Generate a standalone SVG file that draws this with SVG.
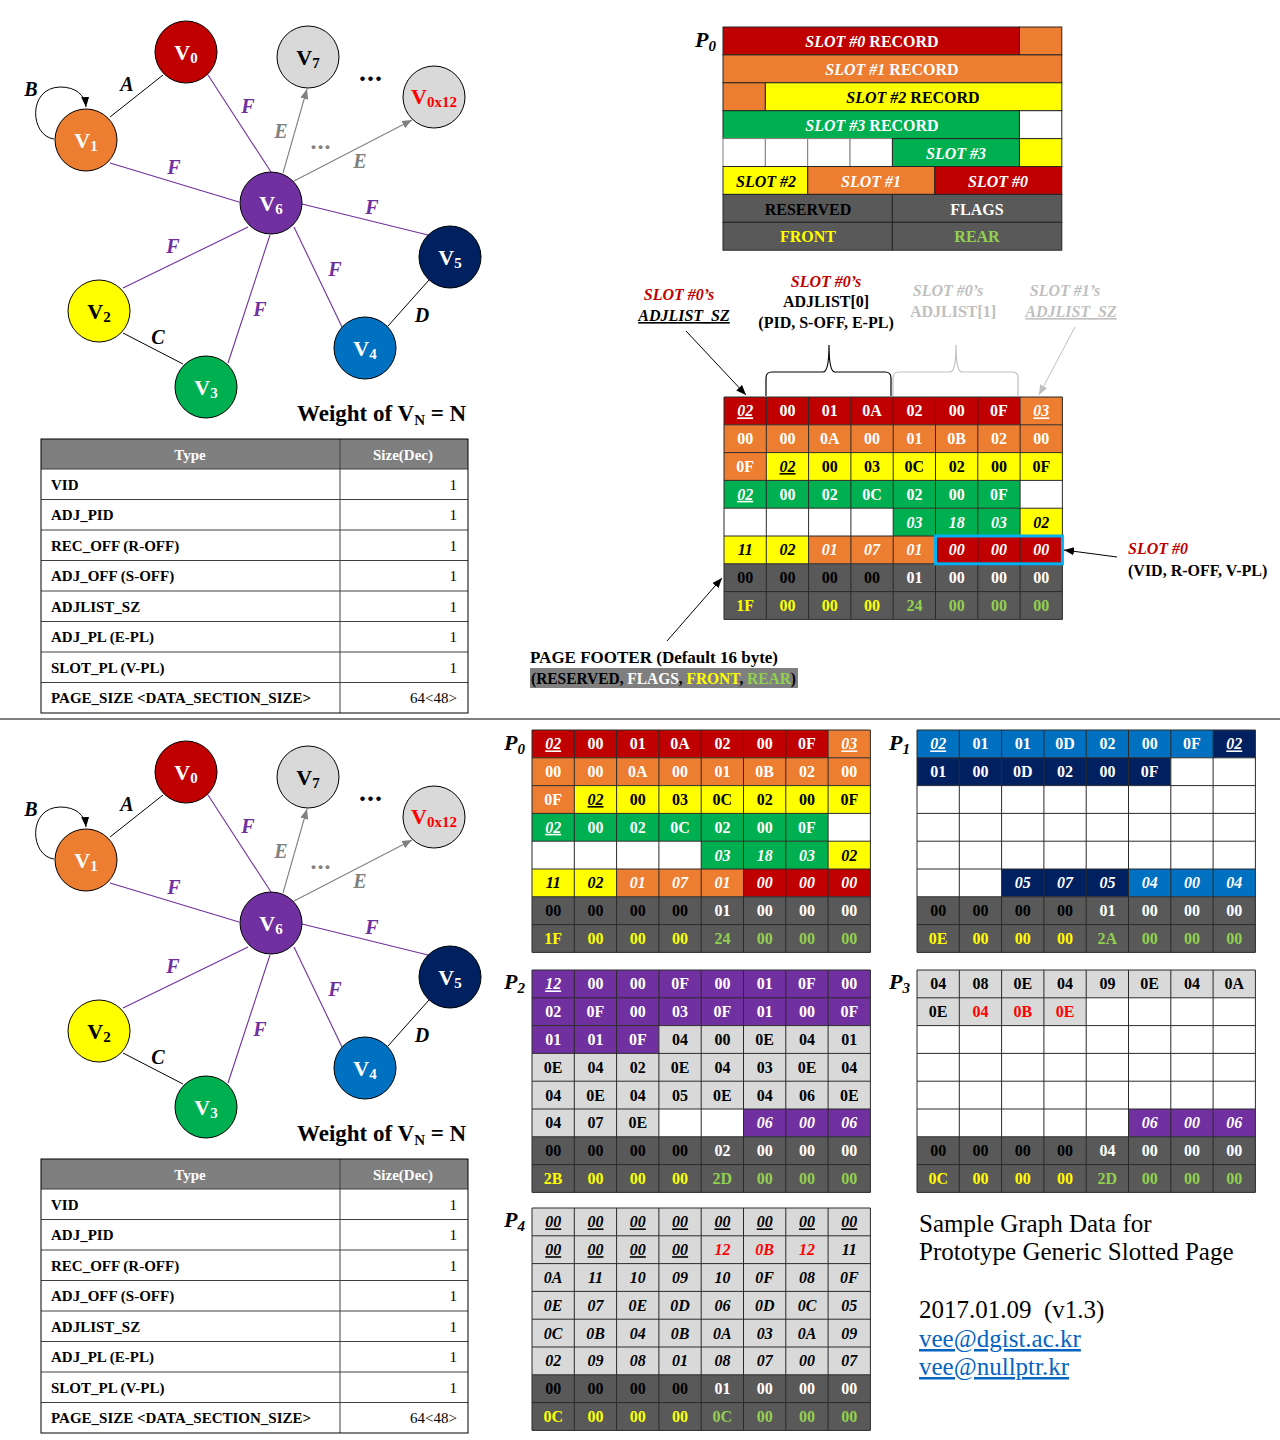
<svg xmlns="http://www.w3.org/2000/svg" width="1280" height="1440" viewBox="0 0 1280 1440">
<style>
text{font-family:"Liberation Serif","DejaVu Serif",serif}
.c{font-weight:bold;font-size:16px;text-anchor:middle}
.w{fill:#fff}.k{fill:#000}.y{fill:#ff0}.l{fill:#92d050}.r{fill:#f00}.gy{fill:#bfbfbf}
.i{font-style:italic}.u{text-decoration:underline}
.nl{font-weight:bold;font-size:22px;text-anchor:middle}
.el{font-weight:bold;font-style:italic;font-size:20px;text-anchor:middle}
.pl{font-weight:bold;font-style:italic;font-size:22px}
.tb{font-weight:bold;font-size:15px}
.tv{font-size:15px;text-anchor:end}
.lt{font-weight:bold;font-size:16px;text-anchor:middle}
.fr{fill:#c00000}.fo{fill:#ed7d31}.fy{fill:#ff0}.fg{fill:#00b050}.fd{fill:#595959}.fl{fill:#d9d9d9}.fb{fill:#0070c0}.fn{fill:#002060}.fp{fill:#7030a0}.fw{fill:#fff}
.lay rect{stroke:#262626;stroke-width:1}
.pe{stroke:#7030a0;stroke-width:1.1;fill:none}
.be{stroke:#000;stroke-width:1;fill:none}
.ge{stroke:#808080;stroke-width:1.1;fill:none}
.nd{stroke:#000;stroke-width:1}
</style>
<defs>
<marker id="ahK" viewBox="0 0 10 10" refX="10" refY="5" markerWidth="10" markerHeight="10" orient="auto" markerUnits="userSpaceOnUse"><path d="M0,1 L10,5 L0,9 z" fill="#000"/></marker>
<marker id="ahG" viewBox="0 0 10 10" refX="10" refY="5" markerWidth="10" markerHeight="10" orient="auto" markerUnits="userSpaceOnUse"><path d="M0,1 L10,5 L0,9 z" fill="#808080"/></marker>
<marker id="ahL" viewBox="0 0 10 10" refX="10" refY="5" markerWidth="10" markerHeight="10" orient="auto" markerUnits="userSpaceOnUse"><path d="M0,1 L10,5 L0,9 z" fill="#bfbfbf"/></marker>
<path id="gl" d="M0 0H338.4M0 27.8H338.4M0 55.6H338.4M0 83.4H338.4M0 111.2H338.4M0 139H338.4M0 166.8H338.4M0 194.6H338.4M0 222.4H338.4M0 0V222.4M42.3 0V222.4M84.6 0V222.4M126.9 0V222.4M169.2 0V222.4M211.5 0V222.4M253.8 0V222.4M296.1 0V222.4M338.4 0V222.4" stroke="#2a2a2a" stroke-width="1" fill="none"/>

<g id="gP0">
<rect class="fr" x="0" y="0" width="296.1" height="27.8"/>
<rect class="fo" x="296.1" y="0" width="42.3" height="27.8"/>
<rect class="fo" x="0" y="27.8" width="338.4" height="27.8"/>
<rect class="fo" x="0" y="55.6" width="42.3" height="27.8"/>
<rect class="fy" x="42.3" y="55.6" width="296.1" height="27.8"/>
<rect class="fg" x="0" y="83.4" width="296.1" height="27.8"/>
<rect class="fw" x="296.1" y="83.4" width="42.3" height="27.8"/>
<rect class="fw" x="0" y="111.2" width="169.2" height="27.8"/>
<rect class="fg" x="169.2" y="111.2" width="126.9" height="27.8"/>
<rect class="fy" x="296.1" y="111.2" width="42.3" height="27.8"/>
<rect class="fy" x="0" y="139" width="84.6" height="27.8"/>
<rect class="fo" x="84.6" y="139" width="126.9" height="27.8"/>
<rect class="fr" x="211.5" y="139" width="126.9" height="27.8"/>
<rect class="fd" x="0" y="166.8" width="338.4" height="55.6"/>
<use href="#gl"/>
<g class="c w"><text class="i u" x="21.2" y="19.4">02</text><text x="63.5" y="19.4">00</text><text x="105.8" y="19.4">01</text><text x="148.1" y="19.4">0A</text><text x="190.4" y="19.4">02</text><text x="232.7" y="19.4">00</text><text x="275" y="19.4">0F</text><text class="i u" x="317.3" y="19.4">03</text>
<text x="21.2" y="47.2">00</text><text x="63.5" y="47.2">00</text><text x="105.8" y="47.2">0A</text><text x="148.1" y="47.2">00</text><text x="190.4" y="47.2">01</text><text x="232.7" y="47.2">0B</text><text x="275" y="47.2">02</text><text x="317.3" y="47.2">00</text>
<text x="21.2" y="75">0F</text>
<text class="i u" x="21.2" y="102.8">02</text><text x="63.5" y="102.8">00</text><text x="105.8" y="102.8">02</text><text x="148.1" y="102.8">0C</text><text x="190.4" y="102.8">02</text><text x="232.7" y="102.8">00</text><text x="275" y="102.8">0F</text>
<text class="i" x="190.4" y="130.6">03</text><text class="i" x="232.7" y="130.6">18</text><text class="i" x="275" y="130.6">03</text>
<text class="i" x="105.8" y="158.4">01</text><text class="i" x="148.1" y="158.4">07</text><text class="i" x="190.4" y="158.4">01</text><text class="i" x="232.7" y="158.4">00</text><text class="i" x="275" y="158.4">00</text><text class="i" x="317.3" y="158.4">00</text>
<text x="190.4" y="186.2">01</text><text x="232.7" y="186.2">00</text><text x="275" y="186.2">00</text><text x="317.3" y="186.2">00</text></g>
<g class="c k"><text class="i u" x="63.5" y="75">02</text><text x="105.8" y="75">00</text><text x="148.1" y="75">03</text><text x="190.4" y="75">0C</text><text x="232.7" y="75">02</text><text x="275" y="75">00</text><text x="317.3" y="75">0F</text>
<text class="i" x="317.3" y="130.6">02</text><text class="i" x="21.2" y="158.4">11</text><text class="i" x="63.5" y="158.4">02</text>
<text x="21.2" y="186.2">00</text><text x="63.5" y="186.2">00</text><text x="105.8" y="186.2">00</text><text x="148.1" y="186.2">00</text></g>
<g class="c y"><text x="21.2" y="214">1F</text><text x="63.5" y="214">00</text><text x="105.8" y="214">00</text><text x="148.1" y="214">00</text></g>
<g class="c l"><text x="190.4" y="214">24</text><text x="232.7" y="214">00</text><text x="275" y="214">00</text><text x="317.3" y="214">00</text></g>
</g>

<g id="gP1">
<rect class="fb" x="0" y="0" width="296.1" height="27.8"/>
<rect class="fn" x="296.1" y="0" width="42.3" height="27.8"/>
<rect class="fn" x="0" y="27.8" width="253.8" height="27.8"/>
<rect class="fw" x="253.8" y="27.8" width="84.6" height="27.8"/>
<rect class="fw" x="0" y="55.6" width="338.4" height="83.4"/>
<rect class="fw" x="0" y="139" width="84.6" height="27.8"/>
<rect class="fn" x="84.6" y="139" width="126.9" height="27.8"/>
<rect class="fb" x="211.5" y="139" width="126.9" height="27.8"/>
<rect class="fd" x="0" y="166.8" width="338.4" height="55.6"/>
<use href="#gl"/>
<g class="c w"><text class="i u" x="21.2" y="19.4">02</text><text x="63.5" y="19.4">01</text><text x="105.8" y="19.4">01</text><text x="148.1" y="19.4">0D</text><text x="190.4" y="19.4">02</text><text x="232.7" y="19.4">00</text><text x="275" y="19.4">0F</text><text class="i u" x="317.3" y="19.4">02</text>
<text x="21.2" y="47.2">01</text><text x="63.5" y="47.2">00</text><text x="105.8" y="47.2">0D</text><text x="148.1" y="47.2">02</text><text x="190.4" y="47.2">00</text><text x="232.7" y="47.2">0F</text>
<text class="i" x="105.8" y="158.4">05</text><text class="i" x="148.1" y="158.4">07</text><text class="i" x="190.4" y="158.4">05</text><text class="i" x="232.7" y="158.4">04</text><text class="i" x="275" y="158.4">00</text><text class="i" x="317.3" y="158.4">04</text>
<text x="190.4" y="186.2">01</text><text x="232.7" y="186.2">00</text><text x="275" y="186.2">00</text><text x="317.3" y="186.2">00</text></g>
<g class="c k"><text x="21.2" y="186.2">00</text><text x="63.5" y="186.2">00</text><text x="105.8" y="186.2">00</text><text x="148.1" y="186.2">00</text></g>
<g class="c y"><text x="21.2" y="214">0E</text><text x="63.5" y="214">00</text><text x="105.8" y="214">00</text><text x="148.1" y="214">00</text></g>
<g class="c l"><text x="190.4" y="214">2A</text><text x="232.7" y="214">00</text><text x="275" y="214">00</text><text x="317.3" y="214">00</text></g>
</g>

<g id="gP2">
<rect class="fp" x="0" y="0" width="338.4" height="55.6"/>
<rect class="fp" x="0" y="55.6" width="126.9" height="27.8"/>
<rect class="fl" x="126.9" y="55.6" width="211.5" height="27.8"/>
<rect class="fl" x="0" y="83.4" width="338.4" height="55.6"/>
<rect class="fl" x="0" y="139" width="126.9" height="27.8"/>
<rect class="fw" x="126.9" y="139" width="84.6" height="27.8"/>
<rect class="fp" x="211.5" y="139" width="126.9" height="27.8"/>
<rect class="fd" x="0" y="166.8" width="338.4" height="55.6"/>
<use href="#gl"/>
<g class="c w"><text class="i u" x="21.2" y="19.4">12</text><text x="63.5" y="19.4">00</text><text x="105.8" y="19.4">00</text><text x="148.1" y="19.4">0F</text><text x="190.4" y="19.4">00</text><text x="232.7" y="19.4">01</text><text x="275" y="19.4">0F</text><text x="317.3" y="19.4">00</text>
<text x="21.2" y="47.2">02</text><text x="63.5" y="47.2">0F</text><text x="105.8" y="47.2">00</text><text x="148.1" y="47.2">03</text><text x="190.4" y="47.2">0F</text><text x="232.7" y="47.2">01</text><text x="275" y="47.2">00</text><text x="317.3" y="47.2">0F</text>
<text x="21.2" y="75">01</text><text x="63.5" y="75">01</text><text x="105.8" y="75">0F</text>
<text class="i" x="232.7" y="158.4">06</text><text class="i" x="275" y="158.4">00</text><text class="i" x="317.3" y="158.4">06</text>
<text x="190.4" y="186.2">02</text><text x="232.7" y="186.2">00</text><text x="275" y="186.2">00</text><text x="317.3" y="186.2">00</text></g>
<g class="c k"><text x="148.1" y="75">04</text><text x="190.4" y="75">00</text><text x="232.7" y="75">0E</text><text x="275" y="75">04</text><text x="317.3" y="75">01</text>
<text x="21.2" y="102.8">0E</text><text x="63.5" y="102.8">04</text><text x="105.8" y="102.8">02</text><text x="148.1" y="102.8">0E</text><text x="190.4" y="102.8">04</text><text x="232.7" y="102.8">03</text><text x="275" y="102.8">0E</text><text x="317.3" y="102.8">04</text>
<text x="21.2" y="130.6">04</text><text x="63.5" y="130.6">0E</text><text x="105.8" y="130.6">04</text><text x="148.1" y="130.6">05</text><text x="190.4" y="130.6">0E</text><text x="232.7" y="130.6">04</text><text x="275" y="130.6">06</text><text x="317.3" y="130.6">0E</text>
<text x="21.2" y="158.4">04</text><text x="63.5" y="158.4">07</text><text x="105.8" y="158.4">0E</text>
<text x="21.2" y="186.2">00</text><text x="63.5" y="186.2">00</text><text x="105.8" y="186.2">00</text><text x="148.1" y="186.2">00</text></g>
<g class="c y"><text x="21.2" y="214">2B</text><text x="63.5" y="214">00</text><text x="105.8" y="214">00</text><text x="148.1" y="214">00</text></g>
<g class="c l"><text x="190.4" y="214">2D</text><text x="232.7" y="214">00</text><text x="275" y="214">00</text><text x="317.3" y="214">00</text></g>
</g>

<g id="gP3">
<rect class="fl" x="0" y="0" width="338.4" height="27.8"/>
<rect class="fl" x="0" y="27.8" width="169.2" height="27.8"/>
<rect class="fw" x="169.2" y="27.8" width="169.2" height="27.8"/>
<rect class="fw" x="0" y="55.6" width="338.4" height="83.4"/>
<rect class="fw" x="0" y="139" width="211.5" height="27.8"/>
<rect class="fp" x="211.5" y="139" width="126.9" height="27.8"/>
<rect class="fd" x="0" y="166.8" width="338.4" height="55.6"/>
<use href="#gl"/>
<g class="c k"><text x="21.2" y="19.4">04</text><text x="63.5" y="19.4">08</text><text x="105.8" y="19.4">0E</text><text x="148.1" y="19.4">04</text><text x="190.4" y="19.4">09</text><text x="232.7" y="19.4">0E</text><text x="275" y="19.4">04</text><text x="317.3" y="19.4">0A</text>
<text x="21.2" y="47.2">0E</text>
<text x="21.2" y="186.2">00</text><text x="63.5" y="186.2">00</text><text x="105.8" y="186.2">00</text><text x="148.1" y="186.2">00</text></g>
<g class="c r"><text x="63.5" y="47.2">04</text><text x="105.8" y="47.2">0B</text><text x="148.1" y="47.2">0E</text></g>
<g class="c w"><text class="i" x="232.7" y="158.4">06</text><text class="i" x="275" y="158.4">00</text><text class="i" x="317.3" y="158.4">06</text>
<text x="190.4" y="186.2">04</text><text x="232.7" y="186.2">00</text><text x="275" y="186.2">00</text><text x="317.3" y="186.2">00</text></g>
<g class="c y"><text x="21.2" y="214">0C</text><text x="63.5" y="214">00</text><text x="105.8" y="214">00</text><text x="148.1" y="214">00</text></g>
<g class="c l"><text x="190.4" y="214">2D</text><text x="232.7" y="214">00</text><text x="275" y="214">00</text><text x="317.3" y="214">00</text></g>
</g>

<g id="gP4">
<rect class="fl" x="0" y="0" width="338.4" height="166.8"/>
<rect class="fd" x="0" y="166.8" width="338.4" height="55.6"/>
<use href="#gl"/>
<g class="c k i"><text class="u" x="21.2" y="19.4">00</text><text class="u" x="63.5" y="19.4">00</text><text class="u" x="105.8" y="19.4">00</text><text class="u" x="148.1" y="19.4">00</text><text class="u" x="190.4" y="19.4">00</text><text class="u" x="232.7" y="19.4">00</text><text class="u" x="275" y="19.4">00</text><text class="u" x="317.3" y="19.4">00</text>
<text class="u" x="21.2" y="47.2">00</text><text class="u" x="63.5" y="47.2">00</text><text class="u" x="105.8" y="47.2">00</text><text class="u" x="148.1" y="47.2">00</text><text class="r" x="190.4" y="47.2">12</text><text class="r" x="232.7" y="47.2">0B</text><text class="r" x="275" y="47.2">12</text><text x="317.3" y="47.2">11</text>
<text x="21.2" y="75">0A</text><text x="63.5" y="75">11</text><text x="105.8" y="75">10</text><text x="148.1" y="75">09</text><text x="190.4" y="75">10</text><text x="232.7" y="75">0F</text><text x="275" y="75">08</text><text x="317.3" y="75">0F</text>
<text x="21.2" y="102.8">0E</text><text x="63.5" y="102.8">07</text><text x="105.8" y="102.8">0E</text><text x="148.1" y="102.8">0D</text><text x="190.4" y="102.8">06</text><text x="232.7" y="102.8">0D</text><text x="275" y="102.8">0C</text><text x="317.3" y="102.8">05</text>
<text x="21.2" y="130.6">0C</text><text x="63.5" y="130.6">0B</text><text x="105.8" y="130.6">04</text><text x="148.1" y="130.6">0B</text><text x="190.4" y="130.6">0A</text><text x="232.7" y="130.6">03</text><text x="275" y="130.6">0A</text><text x="317.3" y="130.6">09</text>
<text x="21.2" y="158.4">02</text><text x="63.5" y="158.4">09</text><text x="105.8" y="158.4">08</text><text x="148.1" y="158.4">01</text><text x="190.4" y="158.4">08</text><text x="232.7" y="158.4">07</text><text x="275" y="158.4">00</text><text x="317.3" y="158.4">07</text></g>
<g class="c k"><text x="21.2" y="186.2">00</text><text x="63.5" y="186.2">00</text><text x="105.8" y="186.2">00</text><text x="148.1" y="186.2">00</text></g>
<g class="c w"><text x="190.4" y="186.2">01</text><text x="232.7" y="186.2">00</text><text x="275" y="186.2">00</text><text x="317.3" y="186.2">00</text></g>
<g class="c y"><text x="21.2" y="214">0C</text><text x="63.5" y="214">00</text><text x="105.8" y="214">00</text><text x="148.1" y="214">00</text></g>
<g class="c l"><text x="190.4" y="214">0C</text><text x="232.7" y="214">00</text><text x="275" y="214">00</text><text x="317.3" y="214">00</text></g>
</g>
</defs>

<rect width="1280" height="1440" fill="#fff"/>

<!-- Top graph -->
<g id="graph">
<g id="connectors">
<path class="be" d="M163,75 L110,117"/>
<path class="be" d="M123,333 L183,364"/>
<path class="be" d="M388,326 L429,280"/>
<path class="be" d="M54,139 C30,136 27,88 60,87 C76,87 85,95 86,107" marker-end="url(#ahK)"/>
<path class="pe" d="M208,75 L271,172"/>
<path class="pe" d="M110,163 L239,202"/>
<path class="pe" d="M302,204 L428,235"/>
<path class="pe" d="M248,227 L123,288"/>
<path class="pe" d="M270,235 L228,363"/>
<path class="pe" d="M294,227 L342,327"/>
<path class="ge" d="M283,173 L307,89" marker-end="url(#ahG)"/>
<path class="ge" d="M294,181 L412,120" marker-end="url(#ahG)"/>
<g class="el">
<text x="127" y="91">A</text><text x="31" y="96">B</text><text x="158" y="344">C</text><text x="422" y="322">D</text>
<text x="248" y="113" fill="#7030a0">F</text><text x="174" y="174" fill="#7030a0">F</text><text x="372" y="214" fill="#7030a0">F</text><text x="173" y="253" fill="#7030a0">F</text><text x="260" y="316" fill="#7030a0">F</text><text x="335" y="276" fill="#7030a0">F</text>
<text x="281" y="138" fill="#808080">E</text><text x="360" y="168" fill="#808080">E</text>
</g>
</g>
<text x="371" y="81" font-size="28" font-weight="bold" text-anchor="middle" letter-spacing="1">...</text>
<text x="321" y="149" font-size="24" font-weight="bold" text-anchor="middle" fill="#808080" letter-spacing="1">...</text>
<g id="nV0"><circle class="nd" cx="186" cy="52" r="31" fill="#c00000"/><text class="nl w" x="186" y="60">V<tspan font-size="15" dy="3">0</tspan></text></g>
<g id="nV7"><circle class="nd" cx="308" cy="57" r="31" fill="#d9d9d9"/><text class="nl k" x="308" y="65">V<tspan font-size="15" dy="3">7</tspan></text></g>
<g id="nV0x12"><circle class="nd" cx="434" cy="97" r="31" fill="#d9d9d9"/><text class="nl r" x="434" y="104">V<tspan font-size="15" dy="3">0x12</tspan></text></g>
<g id="nV1"><circle class="nd" cx="86" cy="140" r="31" fill="#ed7d31"/><text class="nl w" x="86" y="148">V<tspan font-size="15" dy="3">1</tspan></text></g>
<g id="nV6"><circle class="nd" cx="271" cy="203" r="31" fill="#7030a0"/><text class="nl w" x="271" y="211">V<tspan font-size="15" dy="3">6</tspan></text></g>
<g id="nV5"><circle class="nd" cx="450" cy="257" r="31" fill="#002060"/><text class="nl w" x="450" y="265">V<tspan font-size="15" dy="3">5</tspan></text></g>
<g id="nV2"><circle class="nd" cx="99" cy="311" r="31" fill="#ffff00"/><text class="nl k" x="99" y="319">V<tspan font-size="15" dy="3">2</tspan></text></g>
<g id="nV3"><circle class="nd" cx="206" cy="387" r="31" fill="#00b050"/><text class="nl w" x="206" y="395">V<tspan font-size="15" dy="3">3</tspan></text></g>
<g id="nV4"><circle class="nd" cx="365" cy="348" r="31" fill="#0070c0"/><text class="nl w" x="365" y="356">V<tspan font-size="15" dy="3">4</tspan></text></g>
<text x="297" y="421" font-size="23" font-weight="bold">Weight of V<tspan font-size="15" dy="4">N</tspan><tspan dy="-4"> = N</tspan></text>
</g>

<!-- Top table -->
<g id="table">
<rect x="41" y="439" width="427" height="30" fill="#7f7f7f"/>
<path d="M41 469H468M41 499.5H468M41 530H468M41 560.5H468M41 591H468M41 621.5H468M41 652H468M41 682.5H468M340 439V713" stroke="#404040" fill="none"/>
<rect x="41" y="439" width="427" height="274" fill="none" stroke="#000"/>
<text class="tb w" x="190" y="460" text-anchor="middle">Type</text>
<text class="tb w" x="403" y="460" text-anchor="middle">Size(Dec)</text>
<g class="tb k">
<text x="51" y="489.5">VID</text><text x="51" y="520">ADJ_PID</text><text x="51" y="550.5">REC_OFF (R-OFF)</text><text x="51" y="581">ADJ_OFF (S-OFF)</text><text x="51" y="611.5">ADJLIST_SZ</text><text x="51" y="642">ADJ_PL (E-PL)</text><text x="51" y="672.5">SLOT_PL (V-PL)</text><text x="51" y="703">PAGE_SIZE &lt;DATA_SECTION_SIZE&gt;</text>
</g>
<g class="tv k">
<text x="457" y="489.5">1</text><text x="457" y="520">1</text><text x="457" y="550.5">1</text><text x="457" y="581">1</text><text x="457" y="611.5">1</text><text x="457" y="642">1</text><text x="457" y="672.5">1</text><text x="457" y="703">64&lt;48&gt;</text>
</g>
</g>

<!-- Top-right page layout -->
<g id="layout" class="lay">
<text class="pl" x="695" y="47" stroke="none">P<tspan font-size="15" dy="4">0</tspan></text>
<rect class="fr" x="723" y="27" width="296.45" height="27.9"/>
<rect class="fo" x="1019.45" y="27" width="42.35" height="27.9"/>
<rect class="fo" x="723" y="54.9" width="338.8" height="27.9"/>
<rect class="fo" x="723" y="82.8" width="42.35" height="27.9"/>
<rect class="fy" x="765.35" y="82.8" width="296.45" height="27.9"/>
<rect class="fg" x="723" y="110.7" width="296.45" height="27.9"/>
<rect class="fw" x="1019.45" y="110.7" width="42.35" height="27.9"/>
<rect class="fw" x="723" y="138.6" width="42.35" height="27.9" style="stroke:#808080"/>
<rect class="fw" x="765.35" y="138.6" width="42.35" height="27.9" style="stroke:#808080"/>
<rect class="fw" x="807.7" y="138.6" width="42.35" height="27.9" style="stroke:#808080"/>
<rect class="fw" x="850.05" y="138.6" width="42.35" height="27.9" style="stroke:#808080"/>
<rect class="fg" x="892.4" y="138.6" width="127.05" height="27.9"/>
<rect class="fy" x="1019.45" y="138.6" width="42.35" height="27.9"/>
<rect class="fy" x="723" y="166.5" width="84.7" height="27.9"/>
<rect class="fo" x="807.7" y="166.5" width="127.05" height="27.9"/>
<rect class="fr" x="934.75" y="166.5" width="127.05" height="27.9"/>
<rect class="fd" x="723" y="194.4" width="169.4" height="27.9"/>
<rect class="fd" x="892.4" y="194.4" width="169.4" height="27.9"/>
<rect class="fd" x="723" y="222.3" width="169.4" height="27.9"/>
<rect class="fd" x="892.4" y="222.3" width="169.4" height="27.9"/>
<text class="lt w" x="872" y="47"><tspan class="i">SLOT #0</tspan> RECORD</text>
<text class="lt w" x="892" y="75"><tspan class="i">SLOT #1</tspan> RECORD</text>
<text class="lt k" x="913" y="102.5"><tspan class="i">SLOT #2</tspan> RECORD</text>
<text class="lt w" x="872" y="130.5"><tspan class="i">SLOT #3</tspan> RECORD</text>
<text class="lt w i" x="956" y="158.5">SLOT #3</text>
<text class="lt k i" x="766" y="186.5">SLOT #2</text>
<text class="lt w i" x="871" y="186.5">SLOT #1</text>
<text class="lt w i" x="998" y="186.5">SLOT #0</text>
<text class="lt k" x="808" y="214.5">RESERVED</text>
<text class="lt w" x="977" y="214.5">FLAGS</text>
<text class="lt y" x="808" y="242">FRONT</text>
<text class="lt l" x="977" y="242">REAR</text>
</g>

<!-- Middle annotated P0 -->
<g id="annotations">
<text class="lt i" x="679" y="300" style="fill:#c00000">SLOT #0’s</text>
<text class="lt k i u" x="684" y="321">ADJLIST_SZ</text>
<text class="lt i" x="826" y="287" style="fill:#c00000">SLOT #0’s</text>
<text class="lt k" x="826" y="307">ADJLIST[0]</text>
<text class="lt k" x="826" y="328">(PID, S-OFF, E-PL)</text>
<text class="lt gy i" x="948" y="296">SLOT #0’s</text>
<text class="lt gy" x="953" y="317">ADJLIST[1]</text>
<text class="lt gy i" x="1065" y="296">SLOT #1’s</text>
<text class="lt gy i u" x="1071" y="317">ADJLIST_SZ</text>
<text class="lt i" x="1128" y="554" style="text-anchor:start;fill:#c00000">SLOT #0</text>
<text class="lt k" x="1128" y="576" style="text-anchor:start">(VID, R-OFF, V-PL)</text>
<text class="lt k" x="530" y="663" style="text-anchor:start" textLength="248" lengthAdjust="spacingAndGlyphs">PAGE FOOTER (Default 16 byte)</text>
<rect x="530" y="668" width="268" height="20" fill="#7f7f7f"/>
<text class="lt k" x="531" y="684" style="text-anchor:start" textLength="265" lengthAdjust="spacingAndGlyphs">(RESERVED, <tspan class="w">FLAGS</tspan>, <tspan class="y">FRONT</tspan>, <tspan class="l">REAR</tspan>)</text>
</g>
<g id="mid-connectors">
<path d="M766,396 V378 Q766,372 772,372 H823 Q829,372 829,345 Q829,372 835,372 H885 Q891,372 891,378 V396" fill="none" stroke="#000" stroke-width="1.2"/>
<path d="M893,396 V378 Q893,372 899,372 H950 Q956,372 956,345 Q956,372 962,372 H1012 Q1018,372 1018,378 V396" fill="none" stroke="#bfbfbf" stroke-width="1.2"/>
<path d="M686,331 L746,395" fill="none" stroke="#000" marker-end="url(#ahK)"/>
<path d="M1075,327 L1039,395" fill="none" stroke="#bfbfbf" marker-end="url(#ahL)"/>
<path d="M1117,557 L1064,550" fill="none" stroke="#000" marker-end="url(#ahK)"/>
<path d="M667,641 L722,578" fill="none" stroke="#000" marker-end="url(#ahK)"/>
</g>
<use href="#gP0" x="724" y="397"/>
<rect x="935.5" y="536" width="126.9" height="27.8" fill="none" stroke="#00b0f0" stroke-width="3"/>

<line x1="0" y1="719" x2="1280" y2="719" stroke="#000" stroke-width="1"/>

<!-- Bottom half -->
<use href="#graph" y="720"/>
<use href="#table" y="720"/>
<text class="pl" x="504" y="750">P<tspan font-size="15" dy="4">0</tspan></text>
<text class="pl" x="889" y="750">P<tspan font-size="15" dy="4">1</tspan></text>
<text class="pl" x="504" y="989">P<tspan font-size="15" dy="4">2</tspan></text>
<text class="pl" x="889" y="989">P<tspan font-size="15" dy="4">3</tspan></text>
<text class="pl" x="504" y="1227">P<tspan font-size="15" dy="4">4</tspan></text>
<use href="#gP0" x="532" y="730"/>
<use href="#gP1" x="917" y="730"/>
<use href="#gP2" x="532" y="970"/>
<use href="#gP3" x="917" y="970"/>
<use href="#gP4" x="532" y="1208"/>

<g id="info" font-size="25">
<text x="919" y="1232">Sample Graph Data for</text>
<text x="919" y="1260">Prototype Generic Slotted Page</text>
<text x="919" y="1318">2017.01.09&#160; (v1.3)</text>
<text x="919" y="1347" fill="#0563c1" text-decoration="underline">vee@dgist.ac.kr</text>
<text x="919" y="1375" fill="#0563c1" text-decoration="underline">vee@nullptr.kr</text>
</g>
</svg>
